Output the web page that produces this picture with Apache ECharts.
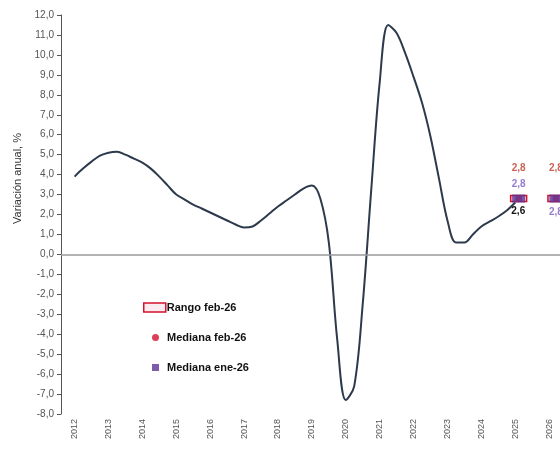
<!DOCTYPE html>
<html>
<head>
<meta charset="utf-8">
<script src="https://cdn.jsdelivr.net/npm/echarts@6/dist/echarts.min.js"></script>
<style>html,body{margin:0;padding:0;background:#fff;}#c{width:560px;height:451px;}</style>
</head>
<body>
<div id="c"></div>
<script>
// Tick labels (years)
const yearTicks = [2012, 2013, 2014, 2015, 2016, 2017, 2018, 2019, 2020, 2021, 2022, 2023, 2024, 2025, 2026];
const periods = [
  2012.00, 2012.25, 2012.50, 2012.75, 2013.00, 2013.25, 2013.50, 2013.75,
  2014.00, 2014.25, 2014.50, 2014.75, 2015.00, 2015.25, 2015.50, 2015.75,
  2016.00, 2016.25, 2016.50, 2016.75, 2017.00, 2017.25, 2017.50, 2017.75,
  2018.00, 2018.25, 2018.50, 2018.75, 2019.00, 2019.25, 2019.50, 2019.75,
  2020.00, 2020.25, 2020.50, 2020.75, 2021.00, 2021.25, 2021.50, 2021.75,
  2022.00, 2022.25, 2022.50, 2022.75, 2023.00, 2023.25, 2023.50, 2023.75,
  2024.00, 2024.25, 2024.50, 2024.75, 2025.00];
const values = [
  3.9, 4.3, 4.65, 4.95, 5.1, 5.15, 5.0, 4.8,
  4.6, 4.3, 3.9, 3.45, 3.0, 2.75, 2.5, 2.3,
  2.1, 1.9, 1.7, 1.5, 1.35, 1.4, 1.7, 2.05,
  2.4, 2.7, 3.0, 3.3, 3.45, 2.8, 0.6, -4.3,
  -7.3, -6.6, -2.5, 3.2, 8.6, 11.5, 11.1, 10.1,
  8.9, 7.6, 5.9, 3.8, 1.7, 0.6, 0.6, 1.0,
  1.4, 1.65, 1.9, 2.2, 2.6];
// Survey markers
const markerYears = [2025.1, 2026.2];
const rangeLowFeb26 = [2.65, 2.65];
const rangeHighFeb26 = [2.95, 2.95];
const medianFeb26 = [2.8, 2.8];
const medianEne26 = [2.8, 2.8];

const fmt = v => v.toFixed(1).replace('.', ',');
const FONT = 'Liberation Sans, Arial, sans-serif';
const RED = '#d4102c';
const PURPLE = '#5d3596';

const lineData = periods.map((p, i) => {
  if (i === periods.length - 1) {
    return { value: [p, values[i]], label: { show: true, position: 'bottom', distance: 4, offset: [3, 0], formatter: d => fmt(d.value[1]), color: '#111', fontWeight: 'bold', fontSize: 10, fontFamily: FONT } };
  }
  return [p, values[i]];
});

const chart = echarts.init(document.getElementById('c'), null, { renderer: 'canvas' });
chart.setOption({
  animation: false,
  backgroundColor: '#fff',
  grid: { left: 61, right: 0, top: 15, bottom: 37, containLabel: false },
  xAxis: {
    type: 'value', min: 2011.6, max: 2026.32,
    axisLine: { show: false }, axisTick: { show: false }, splitLine: { show: false },
    axisLabel: {
      customValues: yearTicks, rotate: 90, fontSize: 9, color: '#555', fontFamily: FONT, margin: 5,
      formatter: v => String(Math.round(v))
    }
  },
  yAxis: {
    type: 'value', min: -8, max: 12, interval: 1,
    axisLine: { show: true, lineStyle: { color: '#555', width: 1 } },
    axisTick: { show: true, length: 4, lineStyle: { color: '#555' } },
    splitLine: { show: false },
    axisLabel: { fontSize: 10, color: '#555', fontFamily: FONT, margin: 7, formatter: v => fmt(v) }
  },
  legend: [
    { left: 138, top: 297, itemWidth: 22, itemHeight: 9, itemGap: 0, selectedMode: false,
      textStyle: { fontSize: 11, fontWeight: 'bold', color: '#111', fontFamily: FONT, padding: [0, 0, 0, -4] },
      data: [{ name: 'Rango feb-26', icon: 'rect', itemStyle: { color: '#fbeaf0', borderColor: RED, borderWidth: 1.5 } }] },
    { left: 147, top: 327, itemWidth: 7, itemHeight: 7, selectedMode: false,
      textStyle: { fontSize: 11, fontWeight: 'bold', color: '#111', fontFamily: FONT, padding: [0, 0, 0, 3] },
      data: [{ name: 'Mediana feb-26', icon: 'circle' }] },
    { left: 147, top: 357, itemWidth: 7, itemHeight: 7, selectedMode: false,
      textStyle: { fontSize: 11, fontWeight: 'bold', color: '#111', fontFamily: FONT, padding: [0, 0, 0, 3] },
      data: [{ name: 'Mediana ene-26', icon: 'rect' }] }
  ],
  graphic: [{
    type: 'text', left: 12, top: 133, rotation: Math.PI / 2,
    style: { text: 'Variación anual, %', fontSize: 11, fill: '#333', fontFamily: FONT }
  }],
  series: [
    {
      name: 'Observado', type: 'line', smooth: 0.35, showSymbol: true, symbol: 'circle', symbolSize: 0, z: 2,
      lineStyle: { color: '#2c3a4c', width: 2 },
      itemStyle: { color: '#2c3a4c' },
      data: lineData,
      markLine: {
        silent: true, symbol: 'none', label: { show: false },
        lineStyle: { color: '#9a9a9a', width: 1.5, type: 'solid' },
        data: [{ yAxis: 0 }]
      }
    },
    {
      name: 'Rango feb-26', type: 'custom', z: 3,
      data: markerYears.map((x, i) => [x, rangeLowFeb26[i], rangeHighFeb26[i]]),
      encode: { x: 0, y: [1, 2] },
      renderItem: (params, api) => {
        const x = api.value(0);
        const top = api.coord([x, api.value(2)]);
        const bot = api.coord([x, api.value(1)]);
        return { type: 'rect', shape: { x: top[0] - 8, y: top[1], width: 16, height: bot[1] - top[1] },
          style: { fill: '#f6d9e6', stroke: RED, lineWidth: 1.5 } };
      },
      itemStyle: { color: RED }
    },
    {
      name: 'Mediana feb-26', type: 'scatter', symbol: 'circle', symbolSize: 7, z: 4,
      itemStyle: { color: RED },
      label: { show: true, position: 'top', distance: 22, color: '#c0392b', fontWeight: 'bold', fontSize: 10, fontFamily: FONT, formatter: d => fmt(d.value[1]) },
      data: markerYears.map((x, i) => [x, medianFeb26[i]])
    },
    {
      name: 'Mediana ene-26', type: 'scatter', symbol: 'rect', symbolSize: [13, 8], z: 5,
      itemStyle: { color: PURPLE },
      label: { show: true, position: 'top', distance: 5, color: '#7a5cc0', fontWeight: 'bold', fontSize: 10, fontFamily: FONT, formatter: d => fmt(d.value[1]) },
      data: markerYears.map((x, i) => i === 0 ? [x, medianEne26[i]] : { value: [x, medianEne26[i]], label: { position: 'bottom', distance: 5 } })
    }
  ]
});
</script>
</body>
</html>
